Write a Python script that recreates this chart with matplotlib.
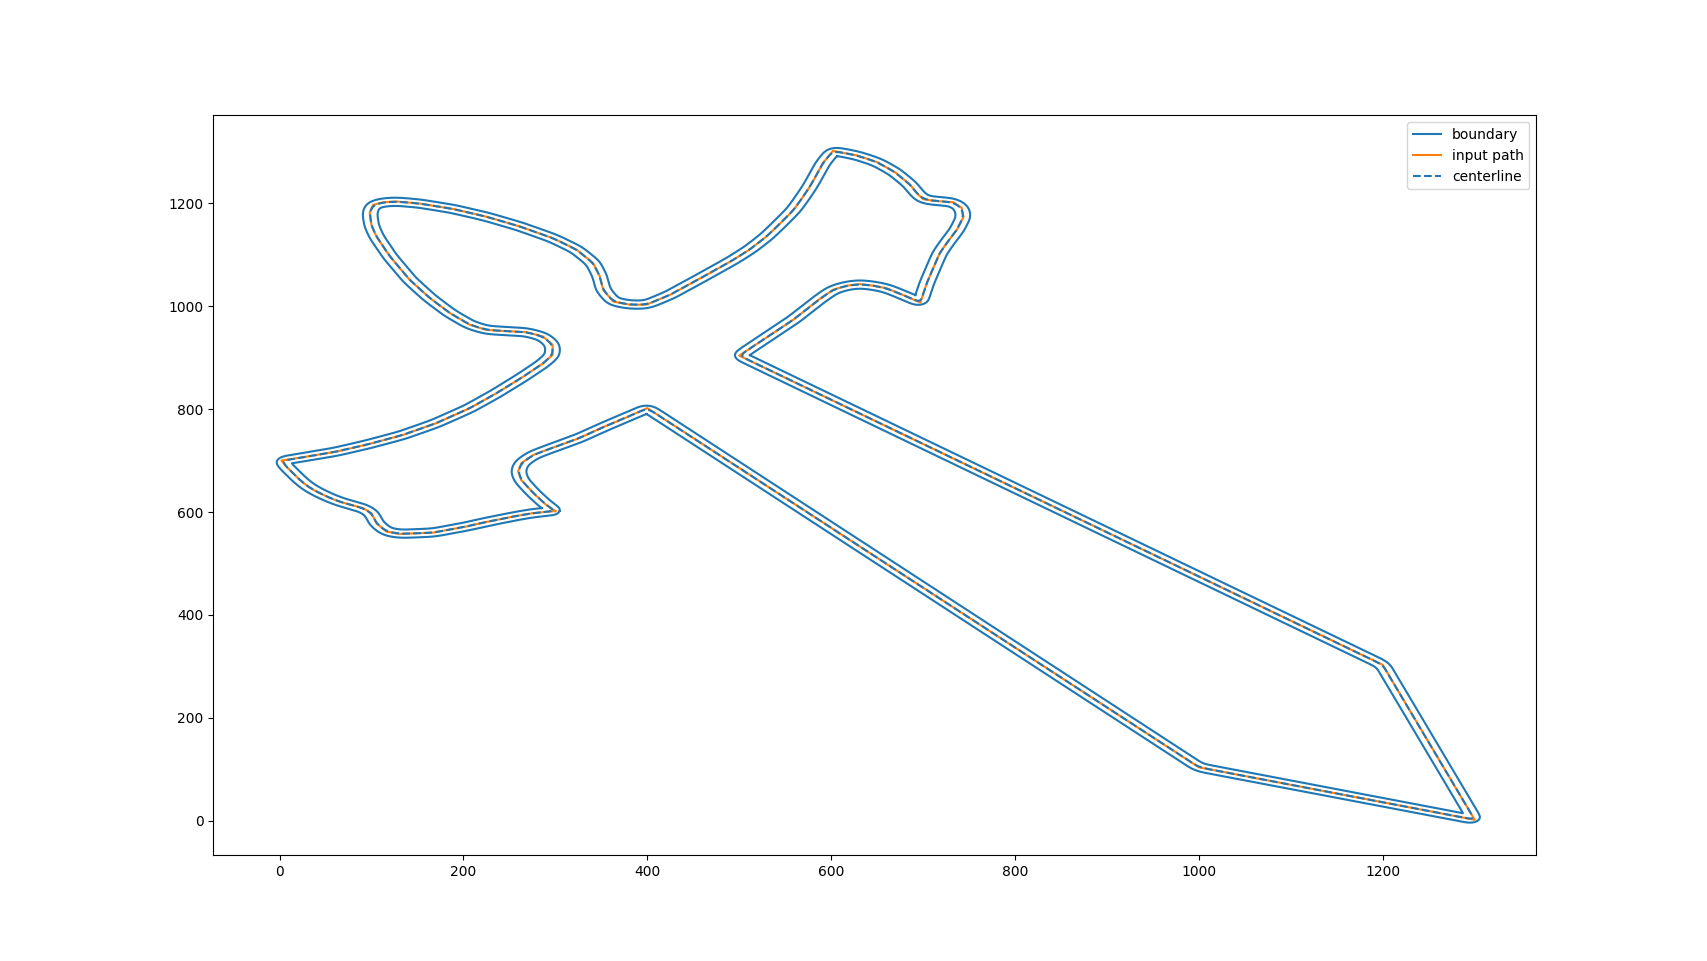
import numpy as np
import matplotlib
matplotlib.use("Agg")
import matplotlib.pyplot as plt

# input path waypoints (closed loop, starts and ends at the lower tip)
path_x = [300, 290, 276, 263, 259.5, 263, 276, 297, 325, 352, 376, 400,
          1000, 1300, 1200, 500, 559, 586, 602, 617, 631, 646, 660, 682, 697,
          704, 711, 718, 727, 736.6, 744, 742, 733, 711, 700, 693, 686, 669,
          650, 628, 602, 591, 584, 577, 568, 559, 544, 530, 512, 493.5, 464.5,
          424.6, 399, 381, 363, 352, 348.4, 341, 323, 297.6, 261.4, 225,
          188.8, 152.6, 127, 112.6, 101.7, 98, 100, 105.4, 120, 141.7, 163.4,
          185, 207, 225, 243, 268.7, 286.7, 297, 297, 286.7, 265, 236, 207,
          170.7, 134.4, 98, 62, 25.6, 2,
          7.5, 14.7, 22, 31, 40, 52.8, 65.5, 91, 100, 105.4, 116.3, 130.8,
          167, 185, 203.4, 221.4, 239.6, 257.8, 275.8, 300]
path_y = [602, 614, 637, 662, 679, 695, 711, 725, 743, 765, 783, 802,
          104, 2, 303, 904, 974, 1012, 1032, 1040, 1043, 1040, 1035, 1019,
          1007, 1045, 1074, 1103, 1126, 1148, 1174, 1191, 1202, 1205, 1208,
          1220, 1236, 1261, 1280, 1293, 1302, 1278, 1255, 1233, 1209, 1187,
          1160, 1136, 1111, 1090, 1061,
          1022, 1003, 1003, 1009, 1032, 1058, 1084, 1110, 1132, 1155, 1174,
          1189, 1199.5, 1203.5, 1202, 1197, 1182, 1157, 1135.5, 1097, 1051,
          1016, 987, 964, 954, 952, 949.6, 941, 925, 905.5, 889, 863, 831,
          802, 773, 750, 732.5, 717.5, 706.6, 700,
          688, 675.5, 662.5, 649.5, 640, 629, 620, 607.5, 598, 578, 562,
          557.5, 560, 566, 572, 579.5, 586, 592.5, 598, 602]

half_width = 8.0
smooth_sigma = 6.0


def resample_closed(x, y, step):
    x = np.asarray(x, float)
    y = np.asarray(y, float)
    seg = np.hypot(np.diff(x), np.diff(y))
    s = np.concatenate([[0], np.cumsum(seg)])
    t = np.arange(0, s[-1], step)
    return np.interp(t, s, x), np.interp(t, s, y)


def smooth_closed(v, sigma, step):
    r = int(4 * sigma / step)
    k = np.exp(-0.5 * (np.arange(-r, r + 1) * step / sigma) ** 2)
    k /= k.sum()
    vv = np.concatenate([v[-r:], v, v[:r]])
    return np.convolve(vv, k, mode="valid")


def offset_ring(cx, cy, d):
    tx = np.roll(cx, -1) - np.roll(cx, 1)
    ty = np.roll(cy, -1) - np.roll(cy, 1)
    n = np.hypot(tx, ty)
    ox = cx - d * ty / n
    oy = cy + d * tx / n
    # drop points that fold back inside the band (inner corners)
    keep = np.ones(len(ox), bool)
    for i in range(0, len(ox), 500):
        dx = ox[i:i + 500, None] - cx[None, :]
        dy = oy[i:i + 500, None] - cy[None, :]
        keep[i:i + 500] = np.sqrt(dx ** 2 + dy ** 2).min(axis=1) > 0.93 * abs(d)
    ox, oy = ox[keep], oy[keep]
    return np.append(ox, ox[0]), np.append(oy, oy[0])


step = 1.5
rx, ry = resample_closed(path_x, path_y, step)
cx = smooth_closed(rx, smooth_sigma, step)
cy = smooth_closed(ry, smooth_sigma, step)

lx, ly = offset_ring(cx, cy, half_width)
qx, qy = offset_ring(cx, cy, -half_width)
bx = np.concatenate([lx, [np.nan], qx])
by = np.concatenate([ly, [np.nan], qy])

fig, ax = plt.subplots(figsize=(17.07, 9.61), dpi=100)
ax.plot(bx, by, color="C0", label="boundary")
ax.plot(path_x, path_y, color="C1", label="input path")
ax.plot(np.append(cx, cx[0]), np.append(cy, cy[0]), "--", color="C0",
        label="centerline")
ax.set_xlim(-72, 1367)
ax.set_ylim(-67, 1371)
ax.legend(loc="upper right")
fig.savefig("out.png", dpi=100)
